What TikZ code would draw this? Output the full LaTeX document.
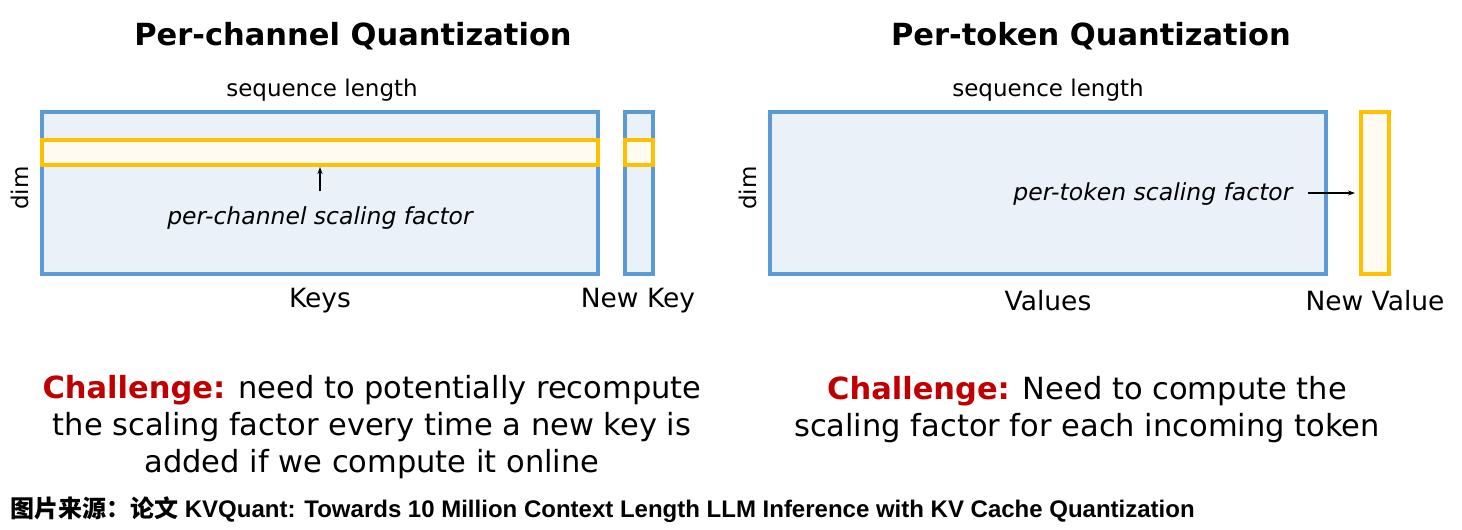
\documentclass[tikz,border=0pt]{standalone}
\usepackage{fontspec}
\usepackage{xcolor}
\usetikzlibrary{arrows.meta,positioning}
\setmainfont{DejaVu Sans}
\newfontfamily\capfont{Liberation Sans}
\newfontfamily\cjk{Noto Sans CJK SC}
\definecolor{cacheblue}{HTML}{5B9BD5}
\definecolor{cachefill}{HTML}{EAF1F9}
\definecolor{scalegold}{HTML}{FFC000}
\definecolor{scalefill}{HTML}{FFFBF0}
\definecolor{alert}{HTML}{C00000}

\begin{document}
\begin{tikzpicture}[
  x=1pt, y=-1pt,
  cachebox/.style={draw=cacheblue, fill=cachefill, line width=4pt, inner sep=0pt, minimum height=162pt},
  scalebox/.style={draw=scalegold, fill=scalefill, line width=4pt, inner sep=0pt},
  title/.style={font=\fontsize{30.5}{34}\selectfont\bfseries},
  axis/.style={font=\fontsize{23}{26}\selectfont},
  label/.style={font=\fontsize{26.5}{30}\selectfont},
  note/.style={font=\fontsize{23.5}{27}\selectfont\itshape},
  challenge/.style={align=center, font=\fontsize{30.5}{37}\selectfont},
  arrow/.style={-{Stealth[length=7pt,width=5pt]}, line width=1.1pt}
]
\useasboundingbox (0,0) rectangle (1462,530);

% per-channel (keys)
\node[title] (chantitle) at (353,36) {Per-channel Quantization};
\node[cachebox, minimum width=556pt] (keys) at (320,193) {};
\node[scalebox, minimum width=556pt, minimum height=25pt] (chanrow) at (320,152.5) {};
\node[cachebox, minimum width=28pt] (newkey) at (639,193) {};
\node[scalebox, minimum width=28pt, minimum height=25pt] (newkeyrow) at (639,152.5) {};
\node[axis] (keyseq) at (322,90) {sequence length};
\node[axis, rotate=90] (keydim) at (20,188) {dim};
\node[note] (channote) at (320,218) {per-channel scaling factor};
\coordinate (chanfoot) at (320,191);
\draw[arrow] (chanfoot) -- (chanrow.south);
\node[label] (keyslabel) at (320,301) {Keys};
\node[label] (newkeylabel) at (638,301) {New Key};

% per-token (values)
\node[title] (toktitle) at (1091,36) {Per-token Quantization};
\node[cachebox, minimum width=556pt] (values) at (1048,193) {};
\node[scalebox, minimum width=28pt, minimum height=162pt] (newvalue) at (1375,193) {};
\node[axis] (valseq) at (1048,90) {sequence length};
\node[axis, rotate=90] (valdim) at (748,188) {dim};
\node[note, anchor=east] (toknote) at (1296,194) {per-token scaling factor};
\coordinate (toktail) at (1308,193);
\draw[arrow, shorten >=4pt] (toktail) -- (newvalue.west);
\node[label] (valueslabel) at (1048,301) {Values};
\node[label] (newvaluelabel) at (1375,301) {New Value};

% challenges
\node[challenge] (chanchal) at (372,427) {\textcolor{alert}{\bfseries Challenge:} need to potentially recompute\\the scaling factor every time a new key is\\added if we compute it online};
\node[challenge] (tokchal) at (1087,410) {\textcolor{alert}{\bfseries Challenge:} Need to compute the\\scaling factor for each incoming token};

% source
\node[anchor=west, inner sep=0pt, font=\fontsize{24}{28}\selectfont\bfseries] (source) at (10,510) {{\cjk 图片来源：论文}\capfont\ KVQuant: Towards 10 Million Context Length LLM Inference with KV Cache Quantization};
\end{tikzpicture}
\end{document}
